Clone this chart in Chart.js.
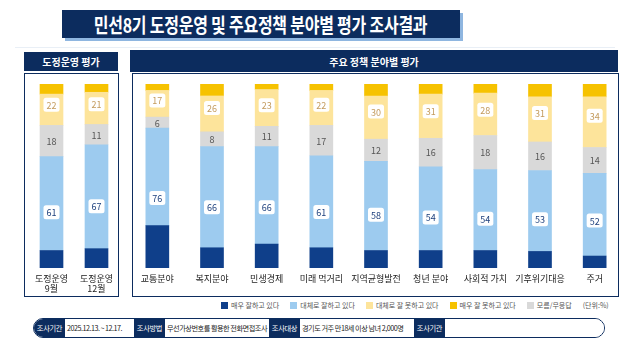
<!DOCTYPE html>
<html>
<head>
<meta charset="utf-8">
<script src="https://cdn.jsdelivr.net/npm/chart.js@4/dist/chart.umd.min.js"></script>
<style>
  body { margin: 0; width: 637px; height: 354px; background: #fff; position: relative; overflow: hidden;
         font-family: "Noto Sans CJK KR", "Noto Sans", sans-serif; }
  .abs { position: absolute; }
  .title-shadow { left: 65px; top: 13px; width: 398px; height: 28px; background: #8fb6e0; }
  .title { left: 62px; top: 10px; width: 398px; height: 28px; background: #0c2c5e; color: #fff;
           display: flex; align-items: center; justify-content: center; }
  .title span { font-size: 20px; font-weight: 700; transform: scaleX(0.8); white-space: nowrap; letter-spacing: -0.3px; }
  .rule { left: 15px; top: 47px; width: 600px; height: 1px; background: #e9eff6; }
  .head { background: #0c2c5e; color: #fff; font-size: 10px; font-weight: 700;
          display: flex; align-items: center; justify-content: center; }
  .panel { border: 1.5px solid #0c2c5e; box-sizing: border-box; }
  .legend { top: 300px; height: 10px; font-size: 7px; color: #555; display: flex; align-items: center; white-space: nowrap; }
  .legend i { display: inline-block; width: 7px; height: 7px; margin-right: 3px; }
  .footer { left: 33px; top: 318px; width: 572px; height: 20px; border: 1px solid #0c2c5e; border-radius: 10px;
            box-sizing: border-box; overflow: hidden; display: flex; align-items: stretch; font-size: 7.2px; }
  .footer .k { background: #0c2c5e; color: #fff; width: 31px; flex: none; display: flex; align-items: center; justify-content: center; letter-spacing: -0.3px; }
  .footer .v { background: #fff; color: #222; padding: 0 2px; flex: none; box-sizing: border-box; display: flex; align-items: center; white-space: nowrap; overflow: hidden; letter-spacing: -0.5px; }
</style>
</head>
<body>
<div class="abs rule"></div>
<div class="abs title-shadow"></div>
<div class="abs title"><span>민선8기 도정운영 및 주요정책 분야별 평가 조사결과</span></div>

<div class="abs head" style="left:24px;top:52px;width:94px;height:19px;">도정운영 평가</div>
<div class="abs head" style="left:130px;top:50px;width:488px;height:22px;">주요 정책 분야별 평가</div>
<div class="abs panel" style="left:24px;top:73px;width:95px;height:224px;"></div>
<div class="abs panel" style="left:132px;top:73px;width:487px;height:224px;"></div>

<canvas id="leftChart" class="abs" style="left:29px;top:74px;" width="90" height="220"></canvas>
<canvas id="rightChart" class="abs" style="left:130px;top:74px;" width="492" height="220"></canvas>

<div id="legend" class="abs legend" style="left:221px;"></div>

<div class="abs footer">
  <div class="k">조사기간</div><div class="v" style="width:69px">2025.12.13. ~ 12.17.</div>
  <div class="k">조사방법</div><div class="v" style="width:104px">무선가상번호를 활용한 전화면접조사</div>
  <div class="k">조사대상</div><div class="v" style="width:114px">경기도 거주 만18세 이상 남녀 2,000명</div>
  <div class="k">조사기관</div><div class="v" style="flex:1"></div>
</div>

<script>
// categories (first two = 도정운영 평가, rest = 주요 정책 분야별 평가)
const categories = [
  ['도정운영', '9월'], ['도정운영', '12월'],
  '교통분야', '복지분야', '민생경제', '미래 먹거리', '지역균형발전',
  '청년 분야', '사회적 가치', '기후위기대응', '주거'
];

// segment values (%), bottom to top
const veryGood   = [9.5, 10.5, 23, 11, 13, 11, 9.5, 9.5, 9.5, 9, 6.5];
const fairlyGood = [51, 56.5, 53, 55, 53, 50, 48.5, 45.5, 44, 44, 45];
const dontKnow   = [17, 11, 6, 8, 11, 16.5, 12, 15.5, 18.5, 15.5, 14];
const fairlyBad  = [17, 17.5, 14.5, 19.5, 20, 19, 23.5, 24, 23, 24.5, 27.5];
const veryBad    = [5.5, 4.5, 3.5, 6.5, 3, 3.5, 6.5, 5.5, 5, 7, 7];

// printed labels
const positiveLabels = [61, 67, 76, 66, 66, 61, 58, 54, 54, 53, 52];
const dontKnowLabels = [18, 11, 6, 8, 11, 17, 12, 16, 18, 16, 14];
const negativeLabels = [22, 21, 17, 26, 23, 22, 30, 31, 28, 31, 34];

const seriesNames  = ['매우 잘하고 있다', '대체로 잘하고 있다', '모름/무응답', '대체로 잘 못하고 있다', '매우 잘 못하고 있다'];
const seriesColors = ['#0f3f8a', '#9dcbef', '#d9d9d9', '#fde49b', '#f6c200'];
const seriesValues = [veryGood, fairlyGood, dontKnow, fairlyBad, veryBad];

const FONT = '"Noto Sans CJK KR", "Noto Sans", sans-serif';

function roundRect(ctx, x, y, w, h, r) {
    ctx.beginPath();
    ctx.moveTo(x + r, y);
    ctx.arcTo(x + w, y, x + w, y + h, r);
    ctx.arcTo(x + w, y + h, x, y + h, r);
    ctx.arcTo(x, y + h, x, y, r);
    ctx.arcTo(x, y, x + w, y, r);
    ctx.closePath();
}

function valueLabels(offset) {
    return {
        id: 'valueLabels',
        afterDatasetsDraw(chart) {
            const ctx = chart.ctx;
            const m = chart.data.datasets.map((d, k) => chart.getDatasetMeta(k));
            ctx.save();
            ctx.font = '9px ' + FONT;
            ctx.textAlign = 'center';
            ctx.textBaseline = 'middle';
            m[0].data.forEach((bar, i) => {
                const idx = i + offset;
                const x = bar.x;
                // positive (navy + light blue)
                const posY = (m[1].data[i].y + m[0].data[i].base) / 2;
                // grey
                const dkY = (m[2].data[i].y + m[2].data[i].base) / 2;
                // negative (light yellow + gold)
                const negY = (m[4].data[i].y + m[3].data[i].base) / 2;

                ctx.fillStyle = '#fff';
                roundRect(ctx, x - 8, posY - 7, 16, 14, 2.5); ctx.fill();
                roundRect(ctx, x - 8, negY - 7, 16, 14, 2.5); ctx.fill();

                ctx.fillStyle = '#1c3f7c';
                ctx.fillText(positiveLabels[idx], x, posY + 0.5);
                ctx.fillStyle = '#555';
                ctx.fillText(dontKnowLabels[idx], x, dkY + 0.5);
                ctx.fillStyle = '#c39a5c';
                ctx.fillText(negativeLabels[idx], x, negY + 0.5);
            });
            ctx.restore();
        }
    };
}

function makeChart(id, start, end) {
    return new Chart(document.getElementById(id), {
        type: 'bar',
        data: {
            labels: categories.slice(start, end),
            datasets: seriesValues.map((vals, k) => ({
                label: seriesNames[k],
                data: vals.slice(start, end),
                backgroundColor: seriesColors[k],
                borderWidth: 0,
                barThickness: 23
            }))
        },
        options: {
            responsive: false,
            animation: false,
            layout: { padding: { top: 10 } },
            plugins: { legend: { display: false }, tooltip: { enabled: false } },
            scales: {
                x: {
                    stacked: true,
                    grid: { display: false, drawTicks: false },
                    border: { display: false },
                    ticks: { color: '#222', font: { family: FONT, size: 9, lineHeight: 1.15 }, padding: 5, maxRotation: 0, autoSkip: false },
                    afterFit: s => { s.height = 26; }
                },
                y: { stacked: true, display: false, min: 0, max: 100 }
            }
        },
        plugins: [valueLabels(start)]
    });
}

makeChart('leftChart', 0, 2);
makeChart('rightChart', 2, categories.length);

// legend (order as in the picture)
const legendOrder = [0, 1, 3, 4, 2];
const legend = document.getElementById('legend');
legendOrder.forEach(k => {
    const item = document.createElement('span');
    item.style.marginRight = '11px';
    item.style.display = 'flex';
    item.style.alignItems = 'center';
    item.innerHTML = '<i style="background:' + seriesColors[k] + '"></i>' + seriesNames[k];
    legend.appendChild(item);
});
const unit = document.createElement('span');
unit.textContent = '(단위:%)';
legend.appendChild(unit);
</script>
</body>
</html>
